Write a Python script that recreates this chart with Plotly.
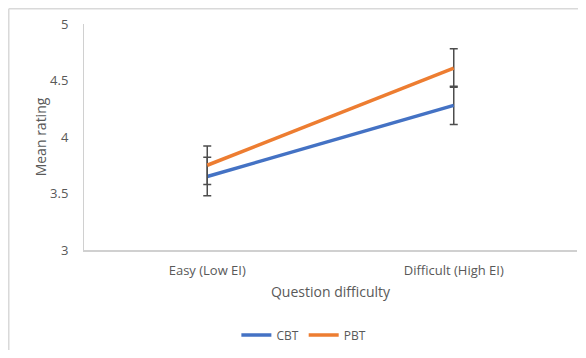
import plotly.graph_objects as go

categories = ["Easy (Low EI)", "Difficult (High EI)"]
cbt_values = [3.65, 4.28]
cbt_errors = [0.17, 0.17]
pbt_values = [3.75, 4.61]
pbt_errors = [0.17, 0.17]
y_ticks = [3, 3.5, 4, 4.5, 5]
y_tick_labels = ["3", "3.5", "4", "4.5", "5"]

font_family = "Open Sans, Liberation Sans, sans-serif"
grey = "#595959"

fig = go.Figure()
fig.add_trace(go.Scatter(
    x=categories, y=cbt_values, name="CBT", mode="lines",
    line=dict(color="#4472C4", width=3.5),
    error_y=dict(type="data", array=cbt_errors, color="#4d4d4d", thickness=1.5, width=4),
))
fig.add_trace(go.Scatter(
    x=categories, y=pbt_values, name="PBT", mode="lines",
    line=dict(color="#ED7D31", width=3.5),
    error_y=dict(type="data", array=pbt_errors, color="#4d4d4d", thickness=1.5, width=4),
))

border = dict(color="#d9d9d9", width=1.5)
fig.update_layout(
    width=570, height=342,
    margin=dict(l=76, r=1, t=16, b=100, autoexpand=False),
    paper_bgcolor="white", plot_bgcolor="white",
    font=dict(family=font_family, size=12, color=grey),
    showlegend=True,
    legend=dict(orientation="h", x=0.446, xanchor="center", y=-0.376, yanchor="middle",
                font=dict(size=12, color=grey), itemwidth=30, tracegroupgap=0),
    xaxis=dict(type="category", range=[-0.5, 1.5], showgrid=False, automargin=False,
               showline=True, linecolor="#d0d0d0", linewidth=1.5, ticks="", mirror=False,
               ticklabelstandoff=8,
               tickfont=dict(size=13, color=grey),
               title=dict(text="Question difficulty", font=dict(size=14, color=grey), standoff=9)),
    yaxis=dict(range=[3, 5], tickvals=y_ticks, ticktext=y_tick_labels, showgrid=False,
               automargin=False, mirror=False,
               showline=True, linecolor="#d0d0d0", linewidth=1, ticks="",
               zeroline=False, ticklabelstandoff=12,
               tickfont=dict(size=13, color=grey),
               title=dict(text="Mean rating", font=dict(size=14, color=grey), standoff=0)),
    shapes=[
        dict(type="line", xref="paper", yref="paper", x0=-0.1526, x1=1.1, y0=1.0675, y1=1.0675,
             line=border, layer="below"),
        dict(type="line", xref="paper", yref="paper", x0=-0.1526, x1=-0.1526, y0=-0.48, y1=1.0675,
             line=border, layer="below"),
    ],
)

fig.write_html("out.html")
